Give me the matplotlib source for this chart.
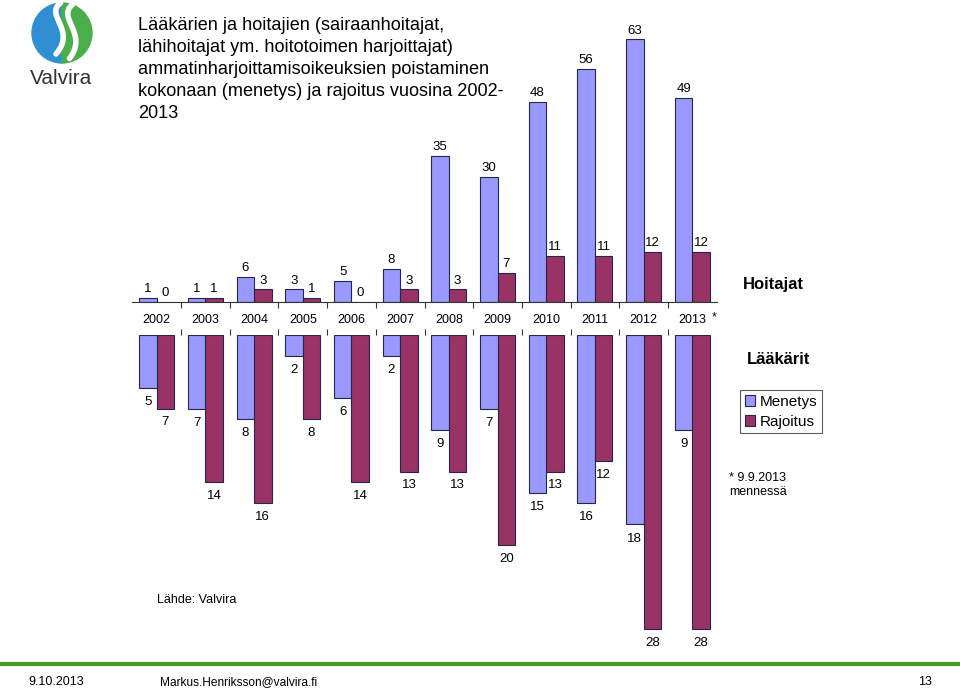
import numpy as np
import matplotlib.pyplot as plt
from matplotlib.patches import Wedge, PathPatch
from matplotlib.path import Path

plt.rcParams['font.family'] = ['Liberation Sans', 'DejaVu Sans']

# data
years = ['2002', '2003', '2004', '2005', '2006', '2007',
         '2008', '2009', '2010', '2011', '2012', '2013']
hoitajat_menetys = [1, 1, 6, 3, 5, 8, 35, 30, 48, 56, 63, 49]
hoitajat_rajoitus = [0, 1, 3, 1, 0, 3, 3, 7, 11, 11, 12, 12]
laakarit_menetys = [5, 7, 8, 2, 6, 2, 9, 7, 15, 16, 18, 9]
laakarit_rajoitus = [7, 14, 16, 8, 14, 13, 13, 20, 13, 12, 28, 28]

blue = '#9999FF'
red = '#993366'
edge = '#26264a'

W, H = 960, 688
fig = plt.figure(figsize=(W / 100, H / 100), dpi=100)

def box(x0, y0, x1, y1):
    # pixel box (top-left origin) -> figure fraction rect
    return [x0 / W, 1 - y1 / H, (x1 - x0) / W, (y1 - y0) / H]

x = np.arange(len(years))
bw = 0.36
fs = 9.5

# upper chart: Hoitajat
ax1 = fig.add_axes(box(132.3, 31, 716.7, 302))
ax1.bar(x - bw / 2, hoitajat_menetys, bw, color=blue, edgecolor=edge, linewidth=0.8)
ax1.bar(x + bw / 2, hoitajat_rajoitus, bw, color=red, edgecolor=edge, linewidth=0.8)
ax1.set_xlim(-0.5, len(years) - 0.5)
ax1.set_ylim(0, 65)
for s in ['top', 'left', 'right']:
    ax1.spines[s].set_visible(False)
ax1.spines['bottom'].set_color('#333333')
ax1.set_yticks([])
ax1.set_xticks(np.arange(0.5, len(years) - 1, 1))
ax1.set_xticklabels([])
ax1.tick_params(axis='x', direction='out', length=4, color='#333333')
for i in range(len(years)):
    ax1.text(x[i] - bw / 2, hoitajat_menetys[i] + 2.1, str(hoitajat_menetys[i]),
             ha='center', va='center', fontsize=fs)
    ax1.text(x[i] + bw / 2, hoitajat_rajoitus[i] + 2.1, str(hoitajat_rajoitus[i]),
             ha='center', va='center', fontsize=fs)
    ax1.text(x[i], -4.3, years[i], ha='center', va='center', fontsize=9, clip_on=False)
ax1.text(11.45, -3.7, '*', ha='center', va='center', fontsize=9, clip_on=False)

# lower chart: Lääkärit
ax2 = fig.add_axes(box(132.3, 335, 716.7, 640))
ax2.bar(x - bw / 2, [-v for v in laakarit_menetys], bw, color=blue, edgecolor=edge, linewidth=0.8)
ax2.bar(x + bw / 2, [-v for v in laakarit_rajoitus], bw, color=red, edgecolor=edge, linewidth=0.8)
ax2.set_xlim(-0.5, len(years) - 0.5)
ax2.set_ylim(-29, 0)
for s in ax2.spines.values():
    s.set_visible(False)
ax2.set_yticks([])
ax2.xaxis.tick_top()
ax2.set_xticks(np.arange(0.5, len(years) - 1, 1))
ax2.set_xticklabels([])
ax2.tick_params(axis='x', direction='out', length=4, color='#333333')
for i in range(len(years)):
    ax2.text(x[i] - bw / 2, -laakarit_menetys[i] - 1.35, str(laakarit_menetys[i]),
             ha='center', va='center', fontsize=fs)
    ax2.text(x[i] + bw / 2, -laakarit_rajoitus[i] - 1.3, str(laakarit_rajoitus[i]),
             ha='center', va='center', fontsize=fs)

# side labels and legend
fig.text(743 / W, 1 - 285 / H, 'Hoitajat', fontsize=12, fontweight='bold', va='center')
fig.text(747 / W, 1 - 359 / H, 'Lääkärit', fontsize=12, fontweight='bold', va='center')
handles = [plt.Rectangle((0, 0), 1, 1, fc=blue, ec=edge, lw=0.8),
           plt.Rectangle((0, 0), 1, 1, fc=red, ec=edge, lw=0.8)]
leg = fig.legend(handles, ['Menetys', 'Rajoitus'], loc='upper left',
                 bbox_to_anchor=(740 / W, 1 - 390 / H), fontsize=11,
                 frameon=True, fancybox=False, handlelength=0.7, handleheight=0.7,
                 handletextpad=0.3, borderpad=0.3, labelspacing=0.4, borderaxespad=0)
leg.get_frame().set_edgecolor('#333333')
leg.get_frame().set_linewidth(0.8)
fig.text(729 / W, 1 - 478 / H, '* 9.9.2013', fontsize=9, va='center')
fig.text(729 / W, 1 - 492 / H, 'mennessä', fontsize=9, va='center')

# title
fig.text(138 / W, 1 - 17 / H,
         'Lääkärien ja hoitajien (sairaanhoitajat,\n'
         'lähihoitajat ym. hoitotoimen harjoittajat)\n'
         'ammatinharjoittamisoikeuksien poistaminen\n'
         'kokonaan (menetys) ja rajoitus vuosina 2002-\n'
         '2013', fontsize=13.1, va='top', ha='left', linespacing=1.38)

fig.text(157 / W, 1 - 600 / H, 'Lähde: Valvira', fontsize=9, va='center')

# footer
fig.add_artist(plt.Line2D([0, 1], [1 - 664 / H, 1 - 664 / H], color='#4a9a2a', lw=3))
fig.text(28 / W, 1 - 682 / H, '9.10.2013', fontsize=9, va='center')
fig.text(160 / W, 1 - 682 / H, 'Markus.Henriksson@valvira.fi', fontsize=8.6, va='center')
fig.text(932 / W, 1 - 682 / H, '13', fontsize=9, va='center', ha='right')

# logo
lax = fig.add_axes(box(29, 0, 95, 66))
lax.set_xlim(-1.1, 1.1)
lax.set_ylim(-1.1, 1.1)
lax.set_aspect('equal')
lax.axis('off')
lax.add_patch(Wedge((0, 0), 1, 90, 270, color='#2f8fd2'))
lax.add_patch(Wedge((0, 0), 1, -90, 90, color='#4aae4a'))
swooshes = [
    [(-0.05, 1.0), (-0.6, 0.6), (0.5, 0.1), (-0.2, -0.7)],
    [(0.35, 0.95), (-0.2, 0.5), (0.9, 0.0), (0.25, -0.85)],
]
for pts in swooshes:
    p = Path(pts, [Path.MOVETO, Path.CURVE4, Path.CURVE4, Path.CURVE4])
    lax.add_patch(PathPatch(p, fc='none', ec='white', lw=4, capstyle='round'))
fig.text(61 / W, 1 - 78 / H, 'Valvira', fontsize=15, color='#333333',
         ha='center', va='center')

fig.savefig('out.png', dpi=100)
